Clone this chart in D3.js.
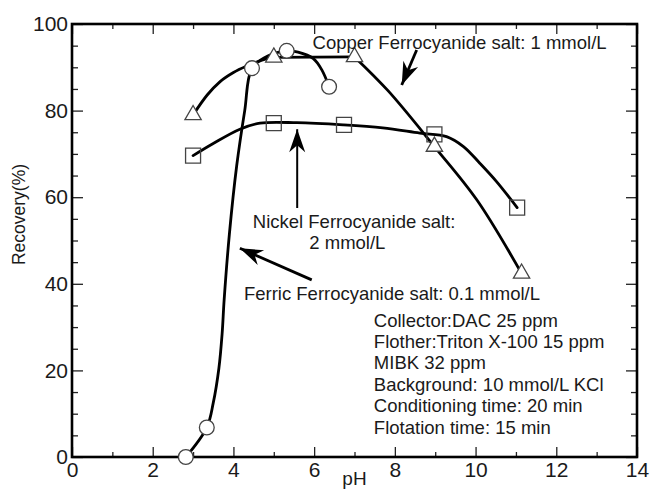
<!DOCTYPE html>
<html>
<head>
<meta charset="utf-8">
<script src="https://cdn.jsdelivr.net/npm/d3@7"></script>
<style>
  html, body { margin: 0; padding: 0; background: #fff; }
  svg { display: block; font-family: "Liberation Sans", Arial, sans-serif; }
</style>
</head>
<body>
<svg id="chart" width="651" height="490"></svg>
<script>
// ---------- data ----------
const xTicks = [0, 2, 4, 6, 8, 10, 12, 14];
const xMinorTicks = [1, 3, 5, 7, 9, 11, 13];
const yTicks = [0, 20, 40, 60, 80, 100];
const yMinorTicks = [5, 10, 15, 25, 30, 35, 45, 50, 55, 65, 70, 75, 85, 90, 95];

// measured points (markers)
const ferricPH  = [2.82, 3.34, 4.46, 5.32, 6.37];
const ferricRec = [0, 6.8, 89.8, 93.8, 85.5];
const copperPH  = [3.0, 5.0, 7.0, 8.98, 11.14];
const copperRec = [79.0, 92.3, 92.4, 71.7, 42.4];
const nickelPH  = [3.0, 5.0, 6.74, 8.98, 11.03];
const nickelRec = [69.6, 77.1, 76.7, 74.5, 57.6];

// fitted curves
const ferricFitPH  = [2.82, 3.34, 3.50, 3.64, 3.72, 3.77, 3.90, 4.08, 4.28, 4.46, 4.85, 5.32, 5.60, 5.98, 6.19, 6.37];
const ferricFitRec = [0, 6.8, 12.5, 20.5, 28.5, 36.3, 51.5, 67.2, 80.0, 89.8, 92.6, 93.8, 93.5, 92.0, 89.4, 85.5];
const copperRisePH  = [3.0, 3.35, 3.67, 4.0, 4.33, 4.66, 5.0, 7.0];
const copperRiseRec = [79.0, 83.6, 86.7, 88.8, 90.3, 91.5, 92.3, 92.4];
const copperFallPH  = [7.0, 7.83, 8.98, 10.03, 11.14];
const copperFallRec = [92.4, 84.6, 71.7, 59.4, 42.4];
const nickelFitPH  = [3.0, 3.5, 4.16, 4.66, 5.57, 6.72, 7.7, 8.62, 9.28, 9.70, 10.11, 10.52, 11.03];
const nickelFitRec = [69.6, 72.4, 75.7, 77.1, 77.2, 76.7, 76.0, 74.8, 74.0, 71.7, 67.8, 63.6, 57.6];

// annotations
const copperLabel = "Copper Ferrocyanide salt: 1 mmol/L";
const nickelLabel = ["Nickel Ferrocyanide salt:", "2 mmol/L"];
const ferricLabel = "Ferric Ferrocyanide salt: 0.1 mmol/L";
const conditions = [
  "Collector:DAC 25 ppm",
  "Flother:Triton X-100 15 ppm",
  "MIBK 32 ppm",
  "Background: 10 mmol/L KCl",
  "Conditioning time: 20 min",
  "Flotation time: 15 min"
];
const xTitle = "pH";
const yTitle = "Recovery(%)";

// ---------- layout ----------
const svg = d3.select("#chart");
const x = d3.scaleLinear().domain([0, 14]).range([72, 637]);
const y = d3.scaleLinear().domain([0, 100]).range([457, 24]);
const ink = "#1a1a1a";

// arrowhead marker
const defs = svg.append("defs");
defs.append("marker")
  .attr("id", "ah")
  .attr("markerUnits", "userSpaceOnUse")
  .attr("viewBox", "-24 -9 26 18")
  .attr("refX", 0).attr("refY", 0)
  .attr("markerWidth", 26).attr("markerHeight", 18)
  .attr("orient", "auto")
  .append("path")
  .attr("d", "M0,0 L-23,-8 L-16,0 L-23,8 Z")
  .attr("fill", "#000");

// ---------- axes ----------
const gAx = svg.append("g").attr("font-family", "'Liberation Sans', Arial, sans-serif");
function styleAxis(g) {
  g.select(".domain").remove();
  g.selectAll(".tick line").attr("stroke", "#222").attr("stroke-width", 1.3);
  g.selectAll(".tick text").attr("fill", ink).attr("font-size", 21);
}
gAx.append("g").attr("transform", `translate(0,${y(0)})`)
  .call(d3.axisBottom(x).tickValues(xTicks).tickSize(-10).tickPadding(5).tickFormat(d3.format("d")))
  .call(styleAxis);
gAx.append("g").attr("transform", `translate(0,${y(0)})`)
  .call(d3.axisBottom(x).tickValues(xMinorTicks).tickSize(-5).tickFormat(""))
  .call(styleAxis);
gAx.append("g").attr("transform", `translate(0,${y(100)})`)
  .call(d3.axisTop(x).tickValues(xTicks).tickSize(-10).tickFormat(""))
  .call(styleAxis);
gAx.append("g").attr("transform", `translate(0,${y(100)})`)
  .call(d3.axisTop(x).tickValues(xMinorTicks).tickSize(-5).tickFormat(""))
  .call(styleAxis);
gAx.append("g").attr("transform", `translate(${x(0)},0)`)
  .call(d3.axisLeft(y).tickValues(yTicks).tickSize(-11).tickPadding(4).tickFormat(d3.format("d")))
  .call(styleAxis);
gAx.append("g").attr("transform", `translate(${x(0)},0)`)
  .call(d3.axisLeft(y).tickValues(yMinorTicks).tickSize(-6).tickFormat(""))
  .call(styleAxis);
gAx.append("g").attr("transform", `translate(${x(14)},0)`)
  .call(d3.axisRight(y).tickValues(yTicks).tickSize(-11).tickFormat(""))
  .call(styleAxis);
gAx.append("g").attr("transform", `translate(${x(14)},0)`)
  .call(d3.axisRight(y).tickValues(yMinorTicks).tickSize(-6).tickFormat(""))
  .call(styleAxis);

// frame
svg.append("rect")
  .attr("x", x(0)).attr("y", y(100))
  .attr("width", x(14) - x(0)).attr("height", y(0) - y(100))
  .attr("fill", "none").attr("stroke", "#000").attr("stroke-width", 2.6);

// axis titles
svg.append("text")
  .attr("x", (x(0) + x(14)) / 2).attr("y", 485)
  .attr("text-anchor", "middle").attr("font-size", 19).attr("fill", ink)
  .text(xTitle);
svg.append("text")
  .attr("transform", `translate(25,${y(56)}) rotate(-90)`)
  .attr("text-anchor", "middle").attr("font-size", 17.5).attr("fill", ink)
  .text(yTitle);

// ---------- curves ----------
const zip = (a, b) => a.map((v, i) => [v, b[i]]);
const lineCR = d3.line().x(d => x(d[0])).y(d => y(d[1])).curve(d3.curveCatmullRom.alpha(0.5));
const lineMono = d3.line().x(d => x(d[0])).y(d => y(d[1])).curve(d3.curveMonotoneX);
const gLines = svg.append("g").attr("fill", "none").attr("stroke", "#000").attr("stroke-width", 2.8)
  .attr("stroke-linejoin", "round").attr("stroke-linecap", "round");
gLines.append("path").attr("d", lineCR(zip(nickelFitPH, nickelFitRec)));
gLines.append("path").attr("d", lineMono(zip(copperRisePH, copperRiseRec)));
gLines.append("path").attr("d", lineCR(zip(copperFallPH, copperFallRec)));
gLines.append("path").attr("d", lineCR(zip(ferricFitPH, ferricFitRec)));

// ---------- markers ----------
const mStroke = "#444";
svg.append("g").selectAll("path")
  .data(zip(nickelPH, nickelRec)).join("path")
  .attr("transform", d => `translate(${x(d[0])},${y(d[1])})`)
  .attr("d", d3.symbol(d3.symbolSquare, 225)())
  .attr("fill", "none").attr("stroke", mStroke).attr("stroke-width", 1.3);
svg.append("g").selectAll("path")
  .data(zip(copperPH, copperRec)).join("path")
  .attr("transform", d => `translate(${x(d[0])},${y(d[1])})`)
  .attr("d", d3.symbol(d3.symbolTriangle, 115)())
  .attr("fill", "#fff").attr("stroke", mStroke).attr("stroke-width", 1.3);
svg.append("g").selectAll("circle")
  .data(zip(ferricPH, ferricRec)).join("circle")
  .attr("cx", d => x(d[0])).attr("cy", d => y(d[1])).attr("r", 7.4)
  .attr("fill", "#fff").attr("stroke", mStroke).attr("stroke-width", 1.3);

// ---------- annotations ----------
const arrows = [
  { from: [8.54, 94.0], to: [8.17, 85.9], w: 2.8 },
  { from: [5.58, 57.5], to: [5.58, 75.7], w: 2.0 },
  { from: [5.94, 40.9], to: [4.16, 48.2], w: 2.8 }
];
svg.append("g").selectAll("line")
  .data(arrows).join("line")
  .attr("x1", d => x(d.from[0])).attr("y1", d => y(d.from[1]))
  .attr("x2", d => x(d.to[0])).attr("y2", d => y(d.to[1]))
  .attr("stroke", "#000").attr("stroke-width", d => d.w)
  .attr("marker-end", "url(#ah)");

const gT = svg.append("g").attr("font-size", 18.5).attr("fill", ink);
gT.append("text").attr("x", x(5.96)).attr("y", y(94.2)).text(copperLabel);
gT.append("text").attr("x", x(4.48)).attr("y", y(52.8)).text(nickelLabel[0]);
gT.append("text").attr("x", x(5.88)).attr("y", y(48.0)).text(nickelLabel[1]);
gT.append("text").attr("x", x(4.26)).attr("y", y(36.3)).text(ferricLabel);
gT.append("g").selectAll("text")
  .data(conditions).join("text")
  .attr("x", x(7.48))
  .attr("y", (d, i) => y(30.1) + i * 21.4)
  .text(d => d);
</script>
</body>
</html>
